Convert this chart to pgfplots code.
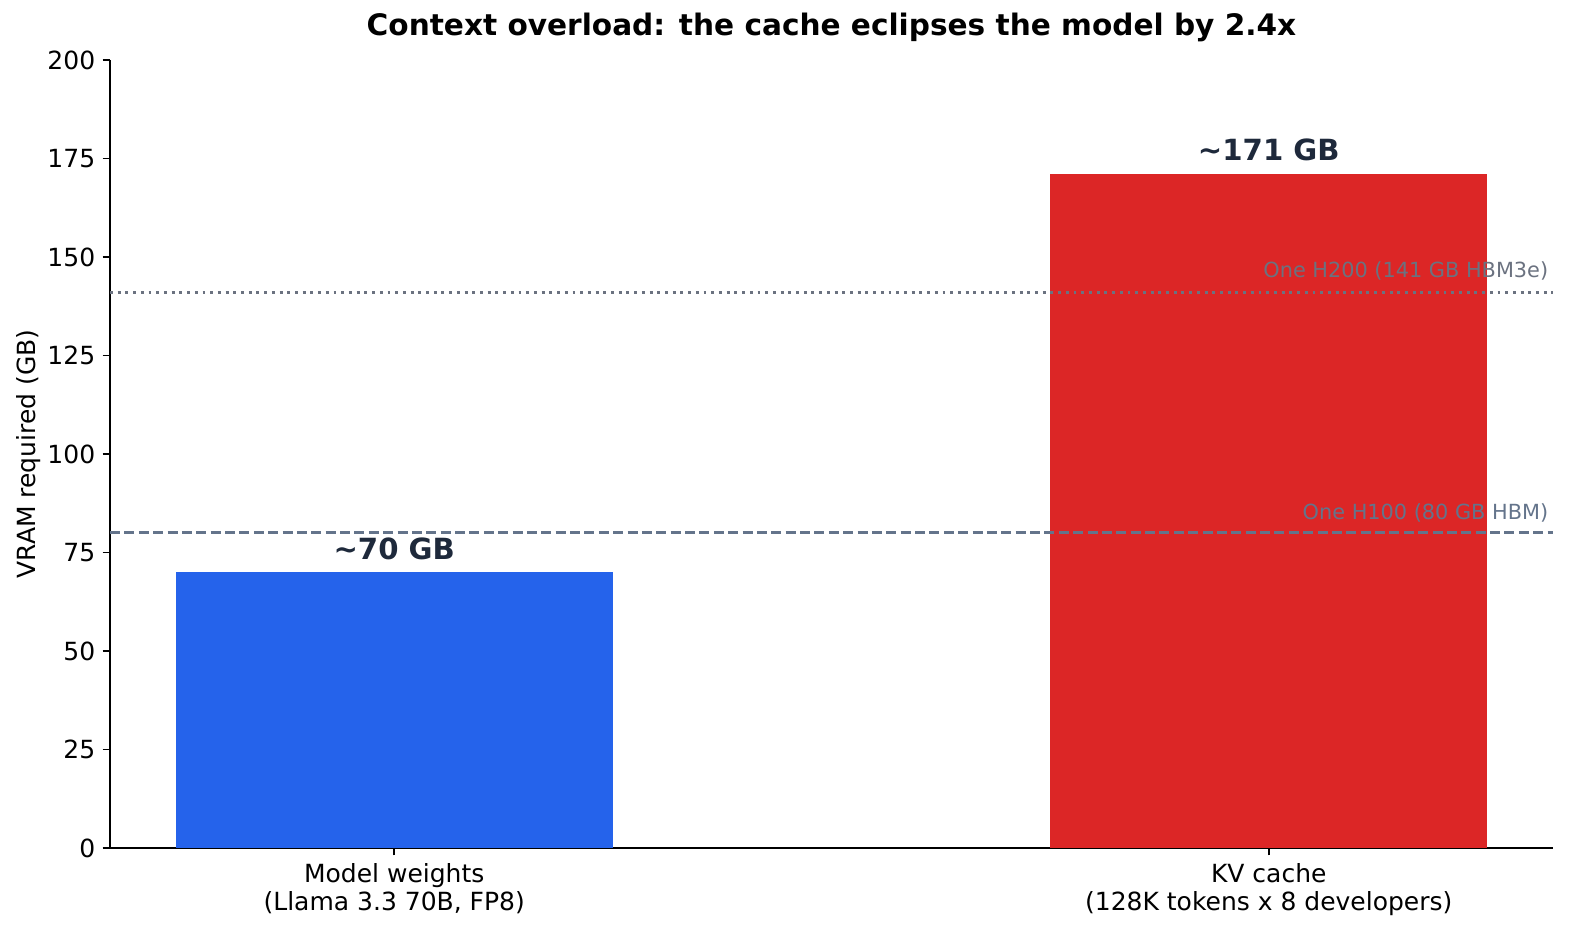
\documentclass[border=0pt]{standalone}
\usepackage{fontspec}
\setmainfont{DejaVu Sans}
\usepackage{pgfplots}
\pgfplotsset{compat=1.18}
\definecolor{cblue}{HTML}{2563EB}
\definecolor{cred}{HTML}{DC2626}
\definecolor{dark}{HTML}{1E293B}
\definecolor{grl}{HTML}{6B7280}
\definecolor{sll}{HTML}{64748B}
\begin{document}
\begin{tikzpicture}
\useasboundingbox (0,0) rectangle (757.92pt,450.24pt);
\begin{axis}[
  at={(52.8pt,43.2pt)}, anchor=south west,
  scale only axis, width=692.64pt, height=378.24pt,
  xmin=-0.325, xmax=1.325, ymin=0, ymax=200,
  axis x line*=bottom, axis y line*=left,
  axis line style={line width=0.8pt, -},
  tick style={line width=0.8pt, black},
  tick align=outside, major tick length=3.5pt,
  ytick={0,25,50,75,100,125,150,175,200},
  xtick={0,1},
  xticklabels={{Model weights\\(Llama 3.3 70B, FP8)},{KV cache\\(128K tokens x 8 developers)}},
  /pgf/number format/assume math mode=true,
  yticklabel style={anchor=east, inner sep=0pt, xshift=-3.4pt, font=\fontsize{12}{14}\selectfont},
  xticklabel style={anchor=base, inner sep=0pt, align=center, yshift=-26.3pt, font=\fontsize{12}{13.4}\selectfont},
  title={Context overload: the cache eclipses the model by 2.4x},
  title style={at={(0.5,1)}, anchor=base, yshift=5.7pt, inner sep=0pt, font=\bfseries\fontsize{14.2}{16}\selectfont},
  ylabel={VRAM required (GB)},
  ylabel style={at={(axis description cs:-0.0565,0.5)}, rotate=0, anchor=center, inner sep=0pt, font=\fontsize{12}{14}\selectfont},
  clip=false,
]
\addplot[ybar, bar shift=0pt, bar width=0.5, fill=cblue, draw=none] coordinates {(0,70)};
\addplot[ybar, bar shift=0pt, bar width=0.5, fill=cred, draw=none] coordinates {(1,171)};
\addplot[grl, line width=1.4pt, dash pattern=on 1.4pt off 2.3pt] coordinates {(-0.325,141) (1.325,141)};
\addplot[sll, line width=1.3pt, dash pattern=on 4.8pt off 2.1pt] coordinates {(-0.325,80) (1.325,80)};
\node[anchor=base east, inner sep=0pt, text=grl, font=\fontsize{10}{12}\selectfont] at (axis cs:1.32,144.9) {One H200 (141 GB HBM3e)};
\node[anchor=base east, inner sep=0pt, text=sll, font=\fontsize{10}{12}\selectfont] at (axis cs:1.32,83.4) {One H100 (80 GB HBM)};
\node[anchor=base, inner sep=0pt, text=dark, font=\bfseries\fontsize{14}{16}\selectfont] at (axis cs:0,73.2) {\textasciitilde70 GB};
\node[anchor=base, inner sep=0pt, text=dark, font=\bfseries\fontsize{14}{16}\selectfont] at (axis cs:1,174.6) {\textasciitilde171 GB};
\end{axis}
\end{tikzpicture}
\end{document}
